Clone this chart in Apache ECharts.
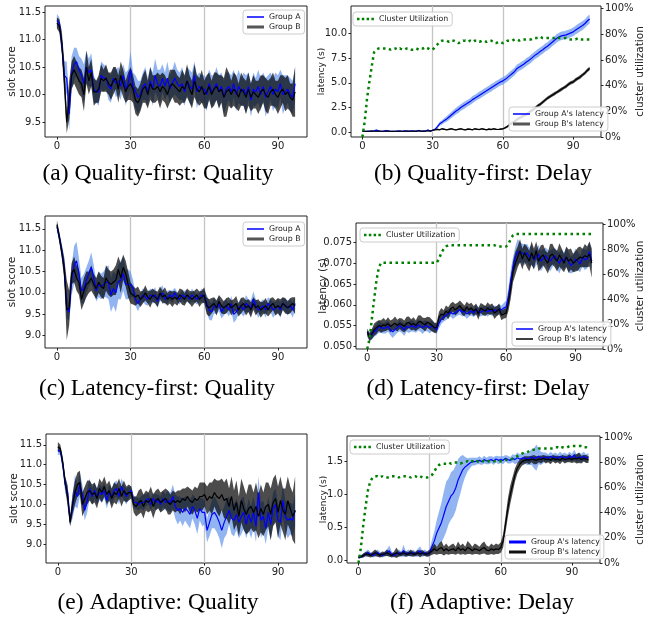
<!DOCTYPE html>
<html><head><meta charset="utf-8">
<script src="https://cdn.jsdelivr.net/npm/echarts@6/dist/echarts.min.js"></script>
<style>html,body{margin:0;padding:0;background:#fff}#c{width:647px;height:624px}</style>
</head><body><div id="c"></div>
<script>
// ---------- shared ----------
const steps = Array.from({length: 98}, (_, i) => i);
const xTicks = [0, 30, 60, 90];
const markX = [30, 60];
const captions = ['(a) Quality-first: Quality', '(b) Quality-first: Delay', '(c) Latency-first: Quality', '(d) Latency-first: Delay', '(e) Adaptive: Quality', '(f) Adaptive: Delay'];
const ticksQualityA = [9.5, 10.0, 10.5, 11.0, 11.5];
const ticksQualityC = [9.0, 9.5, 10.0, 10.5, 11.0, 11.5];
const ticksQualityE = [9.0, 9.5, 10.0, 10.5, 11.0, 11.5];
const ticksDelayB = [0.0, 2.5, 5.0, 7.5, 10.0];
const ticksDelayD = [0.050, 0.055, 0.060, 0.065, 0.070, 0.075];
const ticksDelayF = [0.0, 0.5, 1.0, 1.5];
const ticksUtil = [0, 20, 40, 60, 80, 100];

// ---------- (a) quality-first quality ----------
const qfA = [11.35,11.30,10.90,10.35,10.30,9.65,10.40,10.55,10.60,10.45,
10.35,10.20,10.50,10.40,10.45,10.10,10.05,10.05,10.35,10.30,
10.30,10.15,10.10,10.30,10.20,10.25,10.15,10.35,10.10,10.20,
10.45,10.15,10.05,9.95,10.00,10.15,10.20,10.05,10.25,10.10,
10.35,10.20,10.15,10.30,10.15,10.30,10.10,10.20,10.30,10.20,
10.15,10.20,10.05,10.25,10.15,10.10,10.35,10.05,10.15,10.10,
10.10,10.00,10.20,10.05,10.10,10.20,10.05,10.15,9.95,10.10,
10.15,10.05,10.20,10.00,10.15,10.05,10.10,10.00,10.15,9.90,
10.10,10.05,10.15,10.00,10.15,9.95,10.05,10.15,10.00,10.10,
10.05,10.20,10.00,10.05,10.10,10.00,9.95,10.20];
const qfAsd = [0.12,0.10,0.15,0.25,0.30,0.30,0.30,0.30,0.25,0.25,
0.30,0.35,0.30,0.25,0.30,0.25,0.20,0.25,0.25,0.25,
0.20,0.25,0.25,0.20,0.25,0.25,0.25,0.20,0.30,0.25,
0.35,0.25,0.30,0.30,0.25,0.25,0.30,0.25,0.25,0.30,
0.30,0.25,0.30,0.25,0.25,0.30,0.25,0.25,0.30,0.25,
0.25,0.30,0.25,0.25,0.30,0.30,0.25,0.30,0.25,0.25,
0.25,0.30,0.25,0.30,0.25,0.30,0.30,0.25,0.30,0.30,
0.25,0.30,0.25,0.30,0.30,0.25,0.30,0.35,0.25,0.30,
0.30,0.25,0.30,0.30,0.25,0.35,0.30,0.25,0.30,0.30,
0.30,0.25,0.35,0.30,0.25,0.30,0.30,0.30];
const qfB = [11.30,11.25,10.95,10.30,9.50,9.90,10.35,10.45,10.35,10.25,
10.20,10.00,10.50,10.25,10.40,10.05,10.05,10.10,10.30,10.25,
10.30,10.20,10.15,10.25,10.30,10.10,10.35,10.20,10.05,10.15,
10.20,10.10,9.90,9.85,9.95,10.10,10.15,10.00,10.20,10.10,
10.10,10.15,10.05,10.15,10.10,10.00,10.15,10.20,10.15,10.10,
10.05,10.15,10.10,10.25,10.10,10.00,10.25,10.10,10.05,10.15,
10.00,10.05,10.15,10.00,10.10,10.15,10.05,10.10,9.95,10.05,
10.10,10.00,10.10,10.05,9.95,10.10,10.05,9.95,10.10,9.95,
10.05,10.00,9.95,10.05,10.10,10.00,9.95,10.05,10.10,10.00,
9.95,10.05,10.10,10.00,10.05,9.95,9.90,10.05];
const qfBsd = [0.10,0.12,0.20,0.30,0.20,0.35,0.25,0.25,0.25,0.25,
0.25,0.30,0.30,0.25,0.25,0.25,0.20,0.25,0.25,0.20,
0.25,0.20,0.25,0.25,0.20,0.25,0.25,0.25,0.20,0.25,
0.30,0.25,0.25,0.25,0.25,0.25,0.30,0.25,0.30,0.25,
0.25,0.25,0.30,0.25,0.25,0.25,0.30,0.25,0.30,0.25,
0.25,0.30,0.25,0.30,0.25,0.25,0.30,0.25,0.25,0.30,
0.25,0.30,0.25,0.25,0.30,0.25,0.30,0.25,0.35,0.45,
0.30,0.25,0.30,0.30,0.25,0.30,0.25,0.30,0.30,0.25,
0.30,0.25,0.30,0.30,0.25,0.30,0.30,0.25,0.30,0.25,
0.30,0.30,0.25,0.30,0.30,0.25,0.30,0.45];

// ---------- (b) quality-first delay ----------
const qdA = [0.10,0.10,0.10,0.12,0.10,0.15,0.22,0.12,0.10,0.10,
0.18,0.12,0.10,0.10,0.10,0.12,0.10,0.10,0.15,0.10,
0.12,0.15,0.10,0.12,0.18,0.12,0.10,0.15,0.22,0.12,
0.20,0.30,0.55,0.85,1.00,1.20,1.35,1.55,1.75,1.95,
2.15,2.30,2.50,2.65,2.80,2.95,3.10,3.30,3.45,3.60,
3.75,3.90,4.05,4.20,4.35,4.50,4.65,4.80,4.95,5.10,
5.20,5.35,5.55,5.75,5.95,6.15,6.45,6.60,6.75,6.90,
7.10,7.25,7.45,7.65,7.85,8.00,8.20,8.35,8.55,8.70,
8.90,9.10,9.30,9.50,9.65,9.75,9.80,9.85,9.95,10.05,
10.15,10.35,10.50,10.65,10.80,11.00,11.25,11.45];
const qdAsd = [0.03,0.04,0.05,0.05,0.06,0.05,0.08,0.05,0.04,0.05,
0.07,0.05,0.04,0.05,0.05,0.05,0.04,0.05,0.06,0.05,
0.05,0.06,0.05,0.05,0.07,0.05,0.05,0.06,0.08,0.05,
0.06,0.10,0.15,0.20,0.22,0.25,0.28,0.30,0.30,0.32,
0.32,0.35,0.33,0.35,0.35,0.33,0.35,0.36,0.35,0.35,
0.36,0.35,0.37,0.36,0.35,0.37,0.36,0.38,0.36,0.37,
0.38,0.37,0.38,0.40,0.38,0.39,0.40,0.38,0.40,0.39,
0.40,0.39,0.41,0.40,0.40,0.42,0.40,0.41,0.42,0.40,
0.42,0.41,0.42,0.43,0.42,0.43,0.42,0.44,0.43,0.42,
0.44,0.43,0.45,0.44,0.45,0.44,0.46,0.45];
const qdB = [0.10,0.10,0.08,0.10,0.12,0.10,0.10,0.12,0.10,0.10,
0.10,0.12,0.10,0.08,0.10,0.10,0.12,0.10,0.10,0.12,
0.10,0.10,0.12,0.10,0.15,0.10,0.12,0.10,0.15,0.12,
0.20,0.25,0.30,0.25,0.35,0.30,0.25,0.30,0.35,0.28,
0.25,0.30,0.35,0.28,0.25,0.32,0.30,0.25,0.35,0.30,
0.28,0.35,0.30,0.25,0.32,0.28,0.35,0.30,0.28,0.32,
0.35,0.45,0.60,0.80,0.95,1.10,1.30,1.45,1.55,1.70,
1.80,2.00,2.15,2.30,2.50,2.70,2.85,3.05,3.25,3.45,
3.60,3.75,3.90,4.05,4.20,4.35,4.50,4.65,4.85,5.00,
5.10,5.30,5.45,5.60,5.80,6.00,6.25,6.45];
const qdBsd = [0.03,0.03,0.04,0.03,0.05,0.03,0.04,0.05,0.03,0.04,
0.04,0.05,0.03,0.04,0.03,0.04,0.05,0.03,0.04,0.05,
0.04,0.03,0.05,0.04,0.06,0.04,0.05,0.04,0.06,0.05,
0.06,0.07,0.08,0.06,0.08,0.07,0.06,0.08,0.08,0.07,
0.06,0.08,0.08,0.07,0.06,0.08,0.07,0.06,0.08,0.07,
0.07,0.08,0.07,0.06,0.08,0.07,0.08,0.07,0.06,0.08,
0.08,0.10,0.12,0.14,0.15,0.15,0.16,0.15,0.16,0.15,
0.16,0.15,0.16,0.17,0.16,0.15,0.17,0.16,0.17,0.16,
0.17,0.16,0.17,0.16,0.18,0.17,0.16,0.18,0.17,0.18,
0.17,0.18,0.17,0.18,0.17,0.18,0.19,0.18];
const qdUtil = [0,12,30,43,55,66,68,69,69,69,
69,69,68,69,69,68,69,68,68,69,
69,68,68,69,68,69,69,70,69,68,
68,70,72,74,75,75,75,74,75,75,
74,73,74,75,75,74,75,74,75,75,
74,75,75,74,75,75,74,73,74,74,
73,74,75,75,75,76,76,75,76,76,
76,76,76,77,77,77,78,77,77,77,
77,77,77,78,77,77,77,77,76,76,
76,76,77,76,76,76,76,76];

// ---------- (c) latency-first quality ----------
const lcA = [11.55,11.30,11.00,10.60,9.65,9.55,10.30,10.65,10.75,10.45,
10.05,10.10,10.30,10.45,10.60,10.35,10.05,10.20,10.15,10.20,
10.25,10.25,9.95,10.10,10.00,10.25,10.30,10.45,10.20,10.20,
10.20,10.10,9.85,9.75,9.85,9.95,9.90,9.85,9.95,9.90,
9.95,9.80,9.95,10.00,9.85,9.90,9.95,9.90,10.00,9.90,
9.85,9.95,9.90,9.95,9.85,9.95,9.90,9.85,9.90,9.95,
9.90,9.75,9.60,9.55,9.70,9.65,9.75,9.55,9.65,9.70,
9.60,9.75,9.50,9.55,9.65,9.70,9.60,9.75,9.70,9.65,
9.85,9.70,9.60,9.65,9.70,9.60,9.75,9.70,9.60,9.65,
9.70,9.60,9.75,9.70,9.65,9.70,9.60,9.75];
const lcAsd = [0.10,0.12,0.15,0.25,0.25,0.20,0.35,0.45,0.45,0.35,
0.30,0.35,0.30,0.30,0.35,0.30,0.25,0.30,0.30,0.30,
0.35,0.40,0.40,0.40,0.45,0.40,0.45,0.40,0.35,0.35,
0.30,0.20,0.15,0.18,0.15,0.15,0.18,0.15,0.15,0.15,
0.18,0.15,0.15,0.18,0.12,0.15,0.12,0.15,0.12,0.12,
0.12,0.12,0.15,0.12,0.12,0.15,0.12,0.12,0.12,0.15,
0.15,0.20,0.22,0.20,0.18,0.15,0.18,0.15,0.18,0.15,
0.15,0.18,0.20,0.18,0.15,0.18,0.15,0.20,0.15,0.18,
0.18,0.15,0.18,0.15,0.15,0.18,0.15,0.15,0.18,0.15,
0.15,0.18,0.15,0.15,0.18,0.15,0.18,0.15];
const lcB = [11.60,11.30,10.95,10.55,9.60,9.65,10.45,10.55,10.35,10.25,
9.85,10.05,10.20,10.25,10.35,10.20,10.10,10.25,10.15,10.10,
10.35,10.25,10.20,10.25,10.30,10.55,10.35,10.60,10.45,10.20,
10.00,9.95,9.90,9.95,9.85,9.90,10.00,9.90,9.85,9.95,
9.90,9.85,10.00,9.90,9.95,9.85,9.90,9.85,9.90,9.85,
9.95,9.90,9.85,9.95,9.90,9.85,9.90,9.95,9.85,9.90,
9.95,9.70,9.65,9.70,9.75,9.65,9.80,9.70,9.65,9.70,
9.75,9.65,9.70,9.75,9.60,9.70,9.75,9.65,9.70,9.60,
9.75,9.65,9.70,9.60,9.65,9.70,9.60,9.70,9.75,9.65,
9.70,9.65,9.75,9.70,9.65,9.70,9.75,9.70];
const lcBsd = [0.10,0.12,0.15,0.25,0.70,0.40,0.25,0.30,0.30,0.30,
0.25,0.30,0.30,0.25,0.30,0.25,0.25,0.25,0.25,0.25,
0.30,0.30,0.30,0.30,0.35,0.30,0.35,0.30,0.30,0.30,
0.25,0.22,0.20,0.20,0.18,0.15,0.18,0.15,0.20,0.15,
0.15,0.18,0.15,0.15,0.18,0.15,0.15,0.18,0.15,0.15,
0.15,0.18,0.15,0.15,0.15,0.18,0.15,0.15,0.18,0.15,
0.18,0.20,0.20,0.18,0.15,0.18,0.15,0.18,0.15,0.18,
0.15,0.18,0.15,0.18,0.15,0.18,0.15,0.18,0.15,0.18,
0.15,0.18,0.15,0.18,0.15,0.18,0.15,0.18,0.15,0.18,
0.18,0.20,0.15,0.18,0.15,0.18,0.15,0.20];

// ---------- (d) latency-first delay ----------
const ldA = [0.0530,0.0525,0.0528,0.0535,0.0540,0.0548,0.0545,0.0543,0.0545,0.0548,
0.0540,0.0535,0.0540,0.0545,0.0550,0.0545,0.0540,0.0548,0.0545,0.0550,
0.0548,0.0545,0.0552,0.0548,0.0545,0.0550,0.0548,0.0545,0.0550,0.0545,
0.0540,0.0555,0.0565,0.0570,0.0575,0.0578,0.0582,0.0578,0.0580,0.0585,
0.0588,0.0582,0.0585,0.0578,0.0582,0.0585,0.0580,0.0588,0.0584,0.0582,
0.0585,0.0588,0.0583,0.0587,0.0584,0.0588,0.0585,0.0590,0.0588,0.0592,
0.0595,0.0620,0.0660,0.0690,0.0715,0.0728,0.0725,0.0725,0.0720,0.0725,
0.0715,0.0720,0.0708,0.0715,0.0722,0.0705,0.0712,0.0718,0.0710,0.0705,
0.0712,0.0718,0.0708,0.0700,0.0712,0.0705,0.0715,0.0702,0.0695,0.0700,
0.0710,0.0705,0.0698,0.0715,0.0708,0.0710,0.0728,0.0705];
const ldAsd = [0.0008,0.0010,0.0012,0.0012,0.0013,0.0015,0.0013,0.0012,0.0014,0.0013,
0.0013,0.0015,0.0013,0.0012,0.0014,0.0013,0.0015,0.0012,0.0013,0.0014,
0.0013,0.0012,0.0014,0.0013,0.0015,0.0013,0.0012,0.0014,0.0013,0.0012,
0.0010,0.0012,0.0011,0.0010,0.0012,0.0011,0.0010,0.0012,0.0010,0.0011,
0.0012,0.0010,0.0011,0.0012,0.0010,0.0011,0.0010,0.0012,0.0011,0.0010,
0.0011,0.0010,0.0012,0.0010,0.0011,0.0010,0.0012,0.0011,0.0010,0.0012,
0.0015,0.0020,0.0025,0.0025,0.0025,0.0030,0.0025,0.0022,0.0025,0.0022,
0.0022,0.0025,0.0022,0.0020,0.0022,0.0025,0.0022,0.0020,0.0022,0.0025,
0.0022,0.0020,0.0022,0.0025,0.0022,0.0020,0.0022,0.0025,0.0020,0.0022,
0.0025,0.0022,0.0020,0.0022,0.0025,0.0022,0.0025,0.0020];
const ldB = [0.0535,0.0522,0.0530,0.0540,0.0545,0.0550,0.0548,0.0552,0.0550,0.0555,
0.0548,0.0552,0.0556,0.0550,0.0555,0.0552,0.0548,0.0555,0.0558,0.0552,
0.0555,0.0550,0.0558,0.0560,0.0555,0.0552,0.0558,0.0555,0.0550,0.0545,
0.0545,0.0570,0.0578,0.0575,0.0585,0.0580,0.0590,0.0595,0.0588,0.0592,
0.0598,0.0590,0.0585,0.0595,0.0588,0.0592,0.0585,0.0590,0.0578,0.0592,
0.0588,0.0585,0.0592,0.0588,0.0590,0.0580,0.0585,0.0590,0.0575,0.0578,
0.0580,0.0605,0.0640,0.0680,0.0700,0.0715,0.0730,0.0710,0.0725,0.0715,
0.0705,0.0725,0.0710,0.0730,0.0705,0.0715,0.0720,0.0708,0.0700,0.0718,
0.0722,0.0712,0.0705,0.0720,0.0710,0.0700,0.0715,0.0705,0.0710,0.0700,
0.0705,0.0710,0.0715,0.0712,0.0718,0.0715,0.0722,0.0700];
const ldBsd = [0.0008,0.0010,0.0012,0.0015,0.0015,0.0013,0.0015,0.0016,0.0013,0.0015,
0.0014,0.0013,0.0016,0.0014,0.0013,0.0015,0.0014,0.0016,0.0014,0.0013,
0.0015,0.0013,0.0016,0.0015,0.0014,0.0016,0.0013,0.0015,0.0014,0.0012,
0.0012,0.0013,0.0014,0.0012,0.0013,0.0014,0.0013,0.0012,0.0014,0.0013,
0.0012,0.0014,0.0013,0.0012,0.0014,0.0013,0.0012,0.0013,0.0014,0.0012,
0.0013,0.0012,0.0014,0.0012,0.0013,0.0014,0.0012,0.0013,0.0012,0.0011,
0.0012,0.0020,0.0025,0.0025,0.0028,0.0025,0.0028,0.0025,0.0022,0.0025,
0.0025,0.0028,0.0025,0.0022,0.0025,0.0028,0.0025,0.0022,0.0025,0.0028,
0.0025,0.0022,0.0025,0.0028,0.0025,0.0022,0.0025,0.0028,0.0025,0.0022,
0.0025,0.0028,0.0025,0.0022,0.0028,0.0025,0.0030,0.0035];
const ldUtil = [0,8,24,40,55,65,69,69,69,69,
69,69,69,69,69,69,69,69,69,69,
69,69,69,69,69,69,69,69,69,69,
69,72,77,80,82,83,83,83,83,83,
83,83,83,83,83,83,83,83,83,83,
83,83,83,83,83,83,82,82,82,82,
82,84,88,91,92,92,92,92,92,92,
92,92,92,92,92,92,92,92,92,92,
92,92,92,92,92,92,92,92,92,92,
92,92,92,92,92,92,92,92];

// ---------- (e) adaptive quality ----------
const aeA = [11.35,11.35,11.00,10.50,10.30,9.60,9.95,10.35,10.20,10.50,
10.25,9.85,10.10,10.40,10.20,10.35,10.20,10.30,10.25,10.35,
10.10,10.30,10.20,10.35,10.40,10.20,10.45,10.30,10.20,10.30,
10.35,10.05,10.05,10.00,10.05,10.05,10.10,10.15,10.00,10.15,
10.05,10.10,10.00,10.15,10.05,10.10,10.05,10.20,9.95,9.85,
9.90,9.80,9.90,9.85,9.75,9.95,9.85,9.65,9.90,9.80,
9.80,9.35,9.55,9.75,9.80,9.70,9.55,9.35,9.55,9.70,
9.85,9.65,9.60,9.75,9.55,9.70,9.80,9.50,9.75,9.55,
9.80,9.45,10.30,9.60,9.70,9.40,9.80,9.50,9.90,10.00,
9.60,9.55,10.10,9.70,9.60,9.65,9.60,9.85];
const aeAsd = [0.10,0.10,0.15,0.20,0.20,0.15,0.30,0.40,0.30,0.30,
0.25,0.25,0.30,0.25,0.20,0.20,0.20,0.20,0.20,0.20,
0.20,0.20,0.20,0.20,0.20,0.20,0.20,0.20,0.20,0.15,
0.10,0.15,0.15,0.15,0.15,0.20,0.15,0.15,0.15,0.15,
0.20,0.15,0.20,0.20,0.20,0.25,0.25,0.30,0.30,0.35,
0.30,0.35,0.30,0.35,0.35,0.30,0.35,0.40,0.30,0.35,
0.30,0.30,0.35,0.35,0.40,0.40,0.40,0.45,0.40,0.45,
0.35,0.40,0.40,0.40,0.40,0.45,0.40,0.35,0.40,0.40,
0.40,0.40,0.40,0.45,0.40,0.40,0.40,0.40,0.40,0.40,
0.40,0.45,0.40,0.40,0.45,0.40,0.40,0.40];
const aeB = [11.45,11.40,11.05,10.55,10.20,9.55,10.00,10.30,10.50,10.55,
10.00,10.15,10.30,10.35,10.25,10.30,10.15,10.40,10.30,10.45,
10.25,10.35,10.15,10.30,10.25,10.40,10.20,10.35,10.25,10.30,
10.30,10.00,9.95,10.05,10.10,9.95,10.10,10.05,10.15,9.95,
10.10,10.15,10.05,10.10,10.15,10.05,10.00,10.10,10.05,10.10,
10.05,10.15,10.10,10.20,10.10,10.05,10.15,10.10,10.20,10.20,
10.25,10.10,10.20,10.15,10.30,10.20,10.15,10.25,10.10,10.15,
9.95,10.20,9.85,10.05,9.70,10.10,9.90,9.75,9.90,9.95,
9.80,9.95,9.70,9.90,9.75,9.95,10.00,9.75,10.05,10.15,
9.80,10.10,9.85,9.75,10.10,9.90,9.70,9.85];
const aeBsd = [0.12,0.10,0.15,0.15,0.25,0.10,0.25,0.30,0.30,0.30,
0.30,0.30,0.30,0.25,0.25,0.25,0.25,0.25,0.25,0.25,
0.25,0.25,0.25,0.25,0.25,0.25,0.25,0.25,0.20,0.20,
0.15,0.20,0.25,0.30,0.30,0.30,0.25,0.25,0.30,0.30,
0.25,0.25,0.25,0.25,0.25,0.30,0.25,0.25,0.25,0.25,
0.30,0.25,0.30,0.25,0.30,0.30,0.30,0.30,0.35,0.35,
0.30,0.35,0.35,0.40,0.35,0.40,0.45,0.40,0.45,0.50,
0.45,0.50,0.50,0.55,0.50,0.55,0.55,0.50,0.60,0.55,
0.50,0.60,0.55,0.60,0.55,0.60,0.55,0.65,0.60,0.60,
0.65,0.60,0.55,0.65,0.60,0.55,0.60,0.85];

// ---------- (f) adaptive delay ----------
const afA = [0.05,0.06,0.08,0.10,0.12,0.10,0.08,0.10,0.12,0.10,
0.08,0.10,0.12,0.15,0.10,0.08,0.10,0.12,0.10,0.15,
0.10,0.12,0.10,0.12,0.10,0.12,0.15,0.10,0.12,0.10,
0.12,0.22,0.30,0.42,0.50,0.58,0.70,0.82,0.90,0.98,
1.02,1.10,1.22,1.30,1.38,1.42,1.45,1.48,1.50,1.50,
1.51,1.52,1.50,1.53,1.51,1.52,1.53,1.51,1.54,1.52,
1.53,1.52,1.55,1.53,1.52,1.55,1.53,1.56,1.54,1.55,
1.56,1.54,1.55,1.57,1.55,1.56,1.58,1.55,1.56,1.57,
1.55,1.58,1.56,1.57,1.55,1.58,1.56,1.57,1.55,1.58,
1.56,1.60,1.55,1.57,1.56,1.58,1.55,1.57];
const afAsd = [0.02,0.02,0.03,0.04,0.05,0.03,0.03,0.04,0.05,0.04,
0.03,0.04,0.05,0.08,0.04,0.03,0.04,0.05,0.04,0.09,
0.04,0.05,0.04,0.05,0.04,0.06,0.07,0.04,0.05,0.04,
0.05,0.10,0.15,0.20,0.25,0.30,0.35,0.38,0.35,0.36,
0.35,0.34,0.32,0.28,0.22,0.15,0.10,0.08,0.06,0.06,
0.05,0.06,0.05,0.06,0.05,0.06,0.05,0.06,0.05,0.06,
0.05,0.06,0.05,0.06,0.05,0.06,0.07,0.08,0.07,0.08,
0.08,0.09,0.10,0.12,0.15,0.20,0.12,0.10,0.08,0.07,
0.06,0.07,0.06,0.07,0.06,0.07,0.06,0.07,0.06,0.07,
0.06,0.08,0.06,0.07,0.06,0.07,0.06,0.06];
const afB = [0.05,0.06,0.08,0.10,0.10,0.08,0.10,0.12,0.10,0.08,
0.10,0.10,0.12,0.10,0.08,0.10,0.12,0.10,0.10,0.12,
0.10,0.10,0.12,0.10,0.10,0.12,0.10,0.12,0.10,0.10,
0.12,0.15,0.18,0.15,0.18,0.20,0.15,0.18,0.15,0.17,
0.18,0.15,0.20,0.16,0.18,0.15,0.20,0.18,0.15,0.18,
0.17,0.15,0.18,0.20,0.16,0.15,0.18,0.16,0.18,0.17,
0.20,0.30,0.55,0.80,1.00,1.15,1.30,1.40,1.46,1.50,
1.52,1.53,1.52,1.54,1.53,1.52,1.54,1.53,1.55,1.53,
1.54,1.52,1.55,1.53,1.54,1.52,1.55,1.53,1.54,1.55,
1.53,1.55,1.54,1.56,1.53,1.55,1.54,1.53];
const afBsd = [0.02,0.02,0.03,0.03,0.04,0.03,0.04,0.05,0.04,0.03,
0.04,0.03,0.05,0.04,0.03,0.04,0.08,0.04,0.03,0.04,
0.04,0.03,0.05,0.04,0.03,0.04,0.05,0.04,0.03,0.04,
0.05,0.06,0.08,0.06,0.08,0.10,0.07,0.08,0.06,0.07,
0.08,0.06,0.09,0.07,0.08,0.06,0.10,0.08,0.06,0.08,
0.07,0.06,0.08,0.09,0.07,0.06,0.08,0.07,0.08,0.07,
0.08,0.10,0.12,0.14,0.14,0.12,0.10,0.08,0.07,0.06,
0.06,0.05,0.06,0.05,0.07,0.06,0.05,0.06,0.05,0.06,
0.05,0.06,0.05,0.06,0.05,0.06,0.05,0.06,0.05,0.06,
0.05,0.06,0.07,0.08,0.06,0.05,0.06,0.05];
const afUtil = [0,12,30,45,58,65,68,69,69,68,
69,68,68,68,69,69,69,68,69,69,
69,69,68,69,69,68,69,68,68,68,
69,70,73,76,78,79,79,79,80,79,
80,80,80,79,80,80,81,80,81,80,
81,80,81,81,80,81,81,81,81,81,
81,81,82,82,82,83,84,85,86,87,
88,88,89,90,90,90,91,91,91,91,
91,91,91,92,92,91,92,92,92,93,
93,93,93,93,93,92,92,91];

// ---------- build ----------
const FONT = 'DejaVu Sans';
const BLUE = '#0000ff', BAND_A = 'rgba(100,149,237,0.7)', BAND_B = 'rgba(0,0,0,0.7)', GREEN = '#008000';
const SPECK0 = 'M0,0h0.01v0.01h-0.01Z ', SPECK1 = ' M16.99,7.99h0.01v0.01h-0.01Z';
const ICON_THIN = 'path://' + SPECK0 + 'M0,3.25h17v1.5h-17Z' + SPECK1;
const ICON_THICK = 'path://' + SPECK0 + 'M0,2.5h17v3h-17Z' + SPECK1;
const ICON_DOT = 'path://' + SPECK0 + 'M0,2.75h2.5v2.5h-2.5Z M4.8,2.75h2.5v2.5h-2.5Z M9.6,2.75h2.5v2.5h-2.5Z M14.4,2.75h2.5v2.5h-2.5Z' + SPECK1;
const legendBase = {orient:'vertical', itemWidth:17, itemHeight:8, itemGap:2, padding:[3,4,3,4],
  borderColor:'#cccccc', borderWidth:1, borderRadius:3, backgroundColor:'rgba(255,255,255,0.85)',
  textStyle:{fontFamily:FONT, fontSize:7.8, color:'#222'}, selectedMode:false, symbolKeepAspect:true};
const item = (name, icon, color) => ({name:name, icon:icon, itemStyle:{color:color, borderWidth:0, opacity:1}});
const utilLegendItem = item('Cluster Utilization', ICON_DOT, GREEN);

const panels = [
 {grid:[45,6,262,131], y:[9.23,11.61], ticks:ticksQualityA, dec:1, yName:'slot score', gap:27, nameSize:10.5,
  A:qfA, Asd:qfAsd, B:qfB, Bsd:qfBsd, names:['Group A','Group B'],
  legends:[{left:243, top:10, data:[item('Group A', ICON_THIN, BLUE), item('Group B', ICON_THICK, '#555')]}]},
 {grid:[351,6,257,131], y:[-0.48,12.77], ticks:ticksDelayB, dec:1, yName:'latency (s)', gap:25, nameSize:9,
  A:qdA, Asd:qdAsd, B:qdB, Bsd:qdBsd, names:["Group A's latency","Group B's latency"], util:qdUtil, uMax:102, uGap:34,
  legends:[{left:353, top:12, data:[utilLegendItem]},
           {left:509, top:107, data:[item("Group A's latency", ICON_THIN, BLUE), item("Group B's latency", ICON_THICK, '#555')]}]},
 {grid:[45,216,262,132], y:[8.71,11.80], ticks:ticksQualityC, dec:1, yName:'slot score', gap:27, nameSize:10.5,
  A:lcA, Asd:lcAsd, B:lcB, Bsd:lcBsd, names:['Group A','Group B'],
  legends:[{left:243, top:222, data:[item('Group A', ICON_THIN, BLUE), item('Group B', ICON_THICK, '#555')]}]},
 {grid:[356,223,252,126], y:[0.04937,0.07966], ticks:ticksDelayD, dec:3, yName:'latency (s)', gap:27, nameSize:10.5,
  A:ldA, Asd:ldAsd, B:ldB, Bsd:ldBsd, names:["Group A's latency","Group B's latency"], util:ldUtil, uMax:100.8, uGap:32,
  legends:[{left:360, top:228, data:[utilLegendItem]},
           {left:512, top:322, data:[item("Group A's latency", ICON_THIN, BLUE), item("Group B's latency", ICON_THIN, '#000')]}]},
 {grid:[46,434,261,129], y:[8.53,11.77], ticks:ticksQualityE, dec:1, yName:'slot score', gap:26, nameSize:10.5,
  A:aeA, Asd:aeAsd, B:aeB, Bsd:aeBsd, names:['Group A','Group B'], legends:[]},
 {grid:[347,436,257,127], y:[-0.035,1.888], ticks:ticksDelayF, dec:1, yName:'latency (s)', gap:18.5, nameSize:9,
  A:afA, Asd:afAsd, B:afB, Bsd:afBsd, names:["Group A's latency","Group B's latency"], util:afUtil, uMax:101, uGap:35,
  legends:[{left:350, top:440, data:[utilLegendItem]},
           {left:505, top:535, data:[item("Group A's latency", ICON_THICK, BLUE), item("Group B's latency", ICON_THICK, '#111')]}]}
];
const captionPos = [[158,174],[483,174],[157,389],[478,389],[158,603],[482,603]];

const grids=[], xAxes=[], yAxes=[], series=[], legends=[], graphics=[];
const tickStyle = {show:true, length:2.5, inside:false, lineStyle:{color:'#222', width:1}};
const noLine = {show:false, onZero:false};
panels.forEach((p, i) => {
  grids.push({left:p.grid[0], top:p.grid[1], width:p.grid[2], height:p.grid[3], show:true, borderColor:'#222', borderWidth:1, backgroundColor:'rgba(0,0,0,0)'});
  xAxes.push({type:'value', gridIndex:i, position:'bottom', min:-4.85, max:101.85, axisLine:noLine, splitLine:{show:false},
    axisTick:Object.assign({customValues:xTicks}, tickStyle),
    axisLabel:{customValues:xTicks, fontFamily:FONT, fontSize:10, color:'#222', margin:4}});
  const yl = yAxes.length;
  yAxes.push({type:'value', gridIndex:i, position:'left', min:p.y[0], max:p.y[1], splitLine:{show:false}, axisLine:noLine,
    name:p.yName, nameLocation:'middle', nameGap:p.gap, nameRotate:90, nameMoveOverlap:false,
    nameTextStyle:{fontFamily:FONT, fontSize:p.nameSize, color:'#222'},
    axisTick:Object.assign({customValues:p.ticks}, tickStyle),
    axisLabel:{customValues:p.ticks, fontFamily:FONT, fontSize:10, color:'#222', margin:4, formatter:v => Number(v).toFixed(p.dec)}});
  let yr = -1;
  if (p.util) {
    yr = yAxes.length;
    yAxes.push({type:'value', gridIndex:i, position:'right', min:0, max:p.uMax, splitLine:{show:false}, axisLine:noLine,
      name:'cluster utilization', nameLocation:'middle', nameGap:p.uGap, nameRotate:90, nameMoveOverlap:false,
      nameTextStyle:{fontFamily:FONT, fontSize:10.5, color:'#222'},
      axisTick:Object.assign({customValues:ticksUtil}, tickStyle),
      axisLabel:{customValues:ticksUtil, fontFamily:FONT, fontSize:10, color:'#222', margin:4, formatter:v => Math.round(v)+'%'}});
  }
  // vertical reference lines at x=30/60, drawn behind the bands
  series.push({type:'line', name:'guide'+i, xAxisIndex:i, yAxisIndex:yl, data:p.A.map((v,k) => [steps[k], v]),
    symbol:'none', showSymbol:false, silent:true, animation:false, lineStyle:{width:0, opacity:0}, z:1,
    markLine:{silent:true, symbol:['none','none'], animation:false, label:{show:false}, z:1,
      lineStyle:{color:'#c4c4c4', width:1.3, type:'solid'}, data:markX.map(v => ({xAxis:v}))}});
  const band = (mean, sd, color) => {
    const rows = mean.map((m,k) => [steps[k], m - sd[k], m + sd[k]]);
    series.push({type:'custom', xAxisIndex:i, yAxisIndex:yl, data:rows, encode:{x:0, y:[1,2]}, silent:true, animation:false, z:2,
      renderItem:(params, api) => {
        if (params.dataIndex !== 0) return null;
        const up = rows.map(r => api.coord([r[0], r[2]]));
        const lo = rows.map(r => api.coord([r[0], r[1]])).reverse();
        return {type:'polygon', shape:{points: up.concat(lo)}, style:{fill:color, stroke:null}};
      }});
  };
  band(p.A, p.Asd, BAND_A);
  band(p.B, p.Bsd, BAND_B);
  const line = (name, data, color, width) => series.push({type:'line', name:name, xAxisIndex:i, yAxisIndex:yl,
    data:data.map((v,k) => [steps[k], v]), symbol:'none', showSymbol:false, animation:false, silent:true,
    lineStyle:{color:color, width:width}, itemStyle:{color:color}, z:3});
  line(p.names[0], p.A, BLUE, 1.2);
  line(p.names[1], p.B, '#000', 1.2);
  if (p.util) {
    series.push({type:'line', name:'Cluster Utilization', xAxisIndex:i, yAxisIndex:yr,
      data:p.util.map((v,k) => [steps[k], v]), symbol:'none', showSymbol:false, animation:false, silent:true,
      lineStyle:{color:GREEN, width:2.5, type:[2.5,3.5]}, itemStyle:{color:GREEN}, z:4});
  }
  p.legends.forEach(l => legends.push(Object.assign({}, legendBase, l, {z:10})));
  graphics.push({type:'text', x:captionPos[i][0], y:captionPos[i][1], silent:true,
    style:{text:captions[i], font:'23.5px "Liberation Serif"', fill:'#000', align:'center', verticalAlign:'middle'}});
});

const chart = echarts.init(document.getElementById('c'), null, {renderer:'canvas', width:647, height:624});
chart.setOption({animation:false, backgroundColor:'#fff', grid:grids, xAxis:xAxes, yAxis:yAxes, legend:legends, series:series, graphic:graphics});
</script></body></html>
